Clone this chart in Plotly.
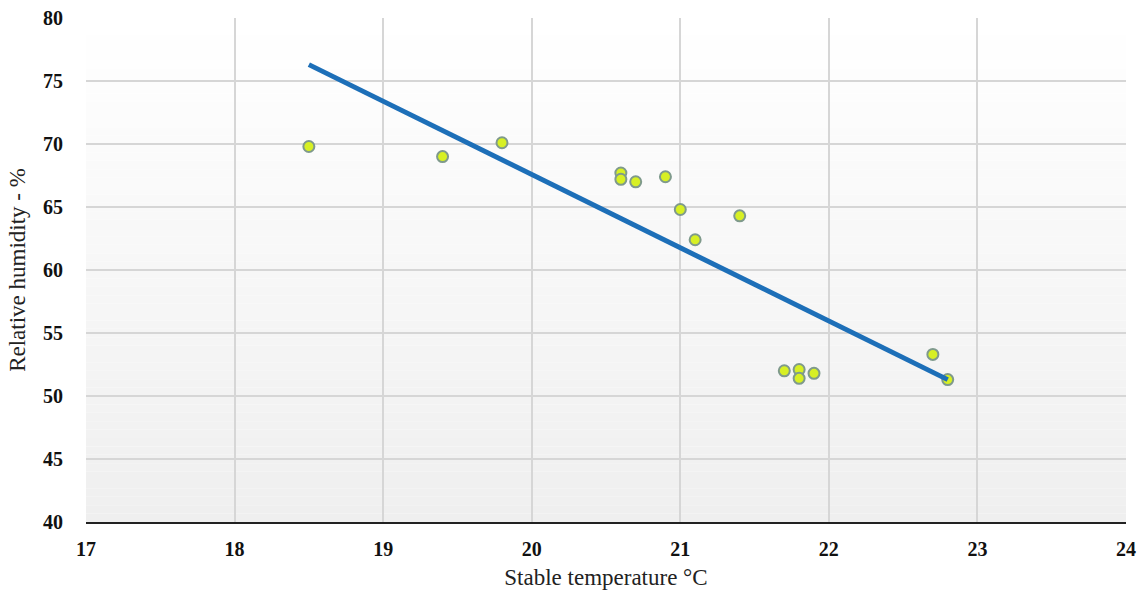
import plotly.graph_objects as go

# Measured stable temperature (°C) and relative humidity (%)
temperature = [18.5, 19.4, 19.8, 20.6, 20.6, 20.7, 20.9, 21.0, 21.4, 21.1,
               21.7, 21.8, 21.8, 21.9, 22.7, 22.8]
humidity = [69.8, 69.0, 70.1, 67.7, 67.2, 67.0, 67.4, 64.8, 64.3, 62.4,
            52.0, 52.1, 51.4, 51.8, 53.3, 51.3]

# Linear trend endpoints
trend_x = [18.5, 22.8]
trend_y = [76.3, 51.3]

x_ticks = [17, 18, 19, 20, 21, 22, 23, 24]
y_ticks = [40, 45, 50, 55, 60, 65, 70, 75, 80]

fig = go.Figure()

fig.add_trace(go.Scatter(
    x=temperature, y=humidity, mode="markers",
    marker=dict(size=11, color="#d7f024",
                line=dict(color="#7f9a8c", width=2)),
    showlegend=False,
))
fig.add_trace(go.Scatter(
    x=trend_x, y=trend_y, mode="lines",
    line=dict(color="#1d6fb8", width=5),
    showlegend=False,
))

# Vertical white-to-grey gradient behind the plot area
n_steps = 60
shapes = []
for i in range(n_steps):
    t = i / (n_steps - 1)
    g = round(255 - 16 * t)
    shapes.append(dict(
        type="rect", xref="x domain", yref="y domain",
        x0=0, x1=1, y0=1 - (i + 1) / n_steps, y1=1 - i / n_steps,
        fillcolor=f"rgb({g},{g},{g})", line=dict(width=0), layer="below",
    ))

serif = "Liberation Serif, Times New Roman, serif"
tick_font = dict(family=serif, size=20, color="#111111", weight="bold")
title_font = dict(family=serif, size=23, color="#222222")

fig.update_layout(
    width=1142, height=596,
    margin=dict(l=86, r=16, t=18, b=74),
    paper_bgcolor="white", plot_bgcolor="white",
    shapes=shapes,
    xaxis=dict(
        range=[17, 24], tickvals=x_ticks, ticktext=[str(v) for v in x_ticks],
        showgrid=True, gridcolor="#d6d6d6", gridwidth=1.5,
        zeroline=False, showline=True, linecolor="#222222", linewidth=2,
        ticks="outside", ticklen=8, tickcolor="rgba(0,0,0,0)",
        tickfont=tick_font,
        title=dict(text="Stable temperature °C", font=title_font, standoff=10),
        automargin=False,
    ),
    yaxis=dict(
        range=[40, 80], tickvals=y_ticks, ticktext=[str(v) for v in y_ticks],
        showgrid=True, gridcolor="#d6d6d6", gridwidth=1.5,
        zeroline=False, showline=False,
        ticks="outside", ticklen=18, tickcolor="rgba(0,0,0,0)",
        tickfont=tick_font,
        title=dict(text="Relative humidity - %", font=title_font, standoff=10),
        automargin=False,
    ),
)

fig.write_html("out.html")
